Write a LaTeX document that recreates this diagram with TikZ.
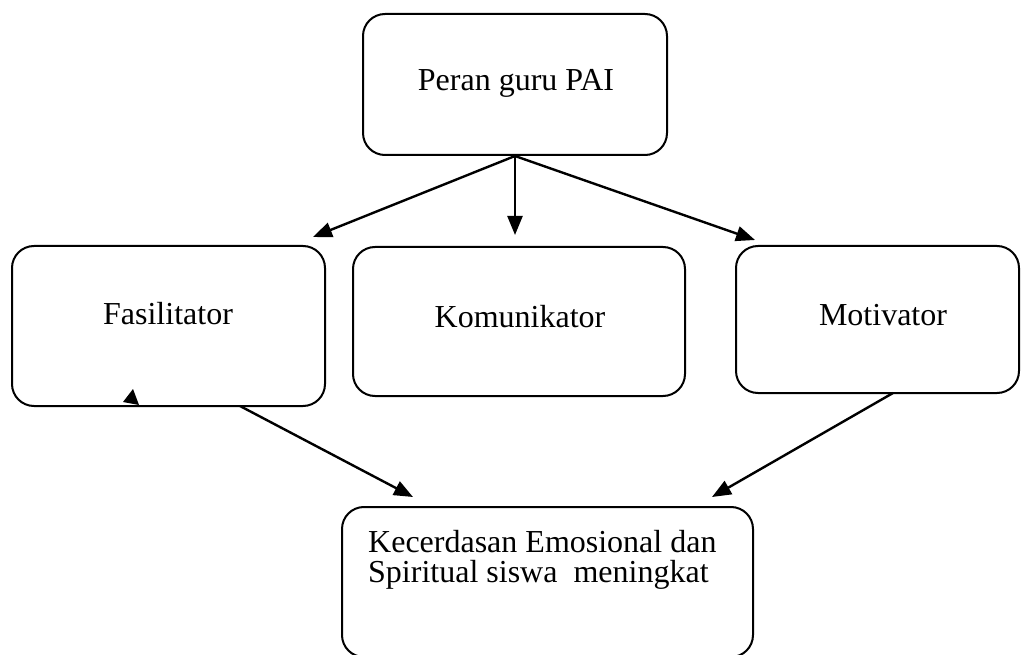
\documentclass[tikz,border=0pt]{standalone}
\usepackage{fontspec}
\setmainfont{Liberation Serif}
\usetikzlibrary{arrows.meta}
\begin{document}
\begin{tikzpicture}[x=1pt,y=-1pt,
  box/.style={draw,line width=2pt,rounded corners=22pt,inner sep=0pt},
  lbl/.style={inner sep=0pt,font=\fontsize{32}{30}\selectfont},
  arr/.style={line width=2.4pt,-{Triangle[length=19pt,width=15pt]}}]
\useasboundingbox (0,0) rectangle (1021,655);
% boxes
\node[box,minimum width=304pt,minimum height=141pt] (top) at (515,84.5) {};
\node[box,minimum width=313pt,minimum height=160pt] (fas) at (168.5,326) {};
\node[box,minimum width=332pt,minimum height=149pt] (kom) at (519,321.5) {};
\node[box,minimum width=283pt,minimum height=147pt] (mot) at (877.5,319.5) {};
\node[box,minimum width=411pt,minimum height=150pt] (bot) at (547.5,582) {};
% labels
\node[lbl,anchor=base] (tl) at (516,91) {Peran guru PAI};
\node[lbl,anchor=base] (fl) at (168,324) {Fasilitator};
\node[lbl,anchor=base] (kl) at (520,328) {Komunikator};
\node[lbl,anchor=base] (ml) at (883,326) {Motivator};
\node[lbl,anchor=base west] (bl1) at (368,552) {Kecerdasan Emosional dan};
\node[lbl,anchor=base west] (bl2) at (368,582) {Spiritual siswa\ \ meningkat};
% arrow ends
\coordinate (tA) at (313,237);
\coordinate (tB) at (515,235);
\coordinate (tC) at (755,240);
\coordinate (fS) at (240,406);
\coordinate (mS) at (893,393);
\coordinate (bA) at (413,497);
\coordinate (bB) at (712,497);
% connectors
\draw[arr] (top.south) -- (tA);
\draw[arr] (top.south) -- (tB);
\draw[arr] (top.south) -- (tC);
\draw[arr] (fS) -- (bA);
\draw[arr] (mS) -- (bB);
% stray arrowhead
\fill (133,389) -- (123,402) -- (139,405) -- cycle;
\end{tikzpicture}
\end{document}
